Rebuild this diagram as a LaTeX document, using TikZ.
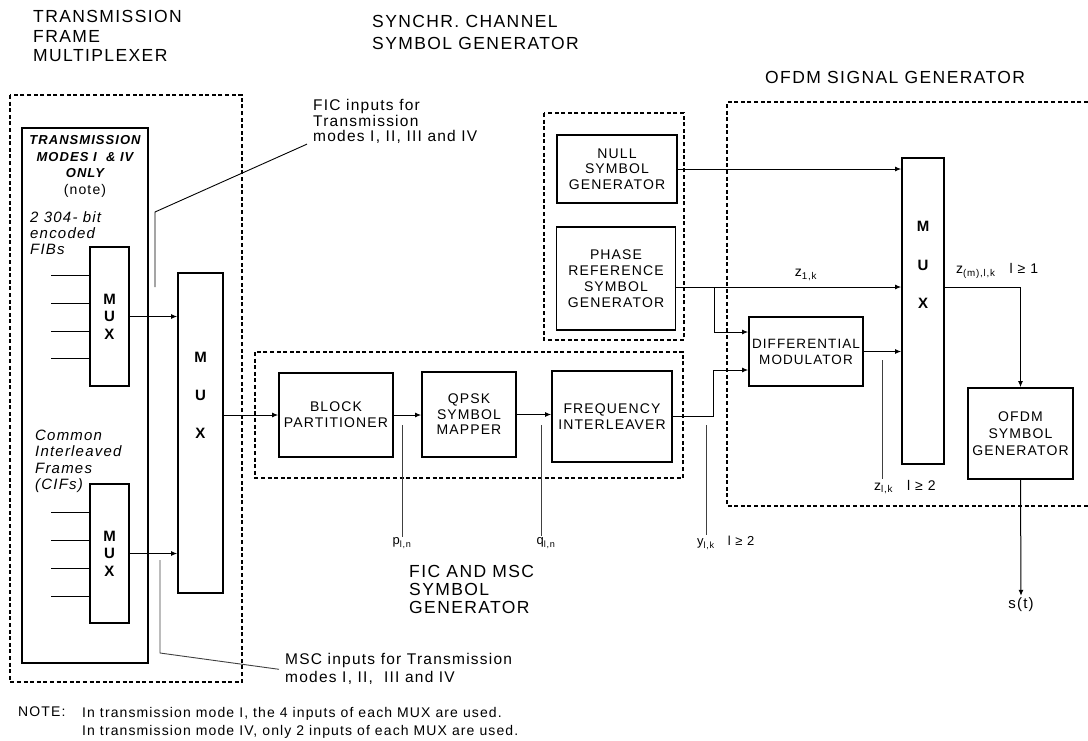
\documentclass[tikz,border=0pt]{standalone}
\usepackage{fontspec}
\setmainfont{Liberation Sans}
\newfontfamily\spaced{Liberation Sans}[LetterSpace=8]
\usetikzlibrary{arrows.meta}

\begin{document}
\begin{tikzpicture}[x=1pt, y=-1pt,
    groupbox/.style={draw, line width=1.4pt, dash pattern=on 4pt off 2.6pt},
    block/.style={draw, line width=1.7pt, inner sep=0pt, align=center, font=\spaced\fontsize{14}{16}\selectfont},
    muxbox/.style={draw, line width=1.7pt, inner sep=0pt, align=center, font=\bfseries\fontsize{15}{17.5}\selectfont},
    muxletters/.style={align=center, inner sep=0pt, font=\bfseries\fontsize{15}{38}\selectfont},
    headtext/.style={anchor=north west, inner sep=0pt, align=left, font=\spaced\fontsize{17.5}{19.5}\selectfont},
    sidetext/.style={anchor=north west, inner sep=0pt, align=left, font=\spaced\itshape\fontsize{15}{16.5}\selectfont},
    leadtext/.style={anchor=north west, inner sep=0pt, align=left, font=\spaced\fontsize{15.5}{15.5}\selectfont},
    sublabel/.style={inner sep=1pt, font=\spaced\fontsize{13}{15}\selectfont},
    wire/.style={line width=1pt},
    sig/.style={wire, -{Latex[length=6pt, width=5pt]}},
    lead/.style={line width=0.9pt, black!75},
]
\useasboundingbox (0,0) rectangle (1088,740);

% Headings
\node[headtext] (tfmhead) at (33,10.5) {TRANSMISSION\\FRAME\\MULTIPLEXER};
\node[headtext, font=\spaced\fontsize{17.5}{22}\selectfont] (synchead) at (372,15.5) {SYNCHR. CHANNEL\\SYMBOL GENERATOR};
\node[headtext] (ofdmhead) at (765,71.5) {OFDM SIGNAL GENERATOR};
\node[headtext, font=\spaced\fontsize{17.5}{18}\selectfont] (fmhead) at (409,565.5) {FIC AND MSC\\SYMBOL\\GENERATOR};

% Transmission frame multiplexer
\draw[groupbox] (10,95) rectangle (242,682);
\draw[line width=1.7pt] (22,128) rectangle (148,663);
\node[anchor=north, inner sep=0pt, align=center, font=\spaced\bfseries\itshape\fontsize{13}{16.5}\selectfont] (modestext) at (85,135.3)
    {TRANSMISSION\\MODES I \ \& IV\\ONLY\\{\normalfont\spaced\fontsize{14}{16.5}\selectfont (note)}};
\node[sidetext, font=\spaced\itshape\fontsize{15}{16}\selectfont] (fibtext) at (30,211.6) {2 304- bit\\encoded\\FIBs};
\node[sidetext] (ciftext) at (35,429.6) {Common\\Interleaved\\Frames\\(CIFs)};

\node[muxbox, minimum width=39pt, minimum height=139pt] (mux1) at (109.5,316.5) {M\\U\\X};
\node[muxbox, minimum width=39pt, minimum height=139pt] (mux2) at (109.5,553.5) {M\\U\\X};
\node[muxbox, minimum width=45pt, minimum height=320pt] (mainmux) at (200.5,433) {};
\node[muxletters] (mainmuxtxt) at (200.5,395) {M\\U\\X};

\foreach \y in {275,303,331,358} \draw[wire] (51,\y) -- (mux1.west |- 0,\y);
\foreach \y in {512,540,568,596} \draw[wire] (51,\y) -- (mux2.west |- 0,\y);
\draw[sig] (mux1.east) -- (mainmux.west |- mux1.east);
\draw[sig] (mux2.east) -- (mainmux.west |- mux2.east);

% FIC and MSC symbol generator
\draw[groupbox] (255,352) rectangle (683,478);
\node[block, minimum width=114pt, minimum height=84pt] (bp) at (336,415) {BLOCK\\PARTITIONER};
\node[block, minimum width=94pt, minimum height=85pt, font=\spaced\fontsize{14}{15.5}\selectfont] (qpsk) at (469,414.5) {QPSK\\SYMBOL\\MAPPER};
\node[block, minimum width=120pt, minimum height=91pt] (fi) at (612,416.5) {FREQUENCY\\INTERLEAVER};

\draw[sig] (mainmux.east |- bp.west) -- (bp.west);
\draw[sig] (bp.east) -- (qpsk.west |- bp.east);
\draw[sig] (qpsk.east) -- (fi.west |- qpsk.east);

% Synchronisation channel symbol generator
\draw[groupbox] (544,113) rectangle (684,340);
\node[block, minimum width=120pt, minimum height=68pt, font=\spaced\fontsize{14}{15.5}\selectfont] (null) at (617,169) {NULL\\SYMBOL\\GENERATOR};
\node[block, minimum width=119pt, minimum height=103pt] (phase) at (616,278.5) {PHASE\\REFERENCE\\SYMBOL\\GENERATOR};

% OFDM signal generator
\draw[groupbox] (1088,102) -- (727,102) -- (727,506) -- (1088,506);
\node[block, minimum width=114pt, minimum height=69pt, font=\spaced\fontsize{13.5}{16}\selectfont] (dm) at (806,351.5) {DIFFERENTIAL\\MODULATOR};
\node[muxbox, minimum width=42pt, minimum height=306pt] (oxmux) at (923,311) {};
\node[muxletters, font=\bfseries\fontsize{15}{38.5}\selectfont] (oxmuxtxt) at (923,265) {M\\U\\X};
\node[block, minimum width=105pt, minimum height=91pt, font=\spaced\fontsize{14}{17}\selectfont] (osg) at (1020.5,433.5) {OFDM\\SYMBOL\\GENERATOR};
\node[inner sep=2pt, font=\spaced\fontsize{15}{17}\selectfont] (st) at (1021,605) {s(t)};

\coordinate (zsplit) at (714,287);
\draw[sig] (null.east) -- (oxmux.west |- null.east);
\draw[wire] ([yshift=-8.5pt]phase.east) -- (zsplit);
\draw[sig] (zsplit) -- (oxmux.west |- zsplit);
\draw[sig] (zsplit) |- ([yshift=19.5pt]dm.west);
\draw[sig] (fi.east) -- ++(41,0) |- ([yshift=-18.5pt]dm.west);
\draw[sig] (dm.east) -- (oxmux.west |- dm.east);
\draw[sig] (oxmux.east |- zsplit) -| (osg.north);
\draw[sig] (osg.south) -- (st.north);

\node[sublabel, font=\spaced\fontsize{14}{16}\selectfont] (z1lbl) at (806,275) {z\textsubscript{1,k}};
\node[sublabel, anchor=west, font=\spaced\fontsize{14}{16}\selectfont] (zmlbl) at (955,271) {z\textsubscript{(m),l,k}\quad l ≥ 1};

% Signal names below the chain
\coordinate (ptop) at (402,425);
\coordinate (qtop) at (541,425);
\coordinate (ytop) at (706,425);
\coordinate (ztop) at (882,360);
\node[sublabel] (plbl) at (402,543) {p\textsubscript{l,n}};
\node[sublabel] (qlbl) at (546,543) {q\textsubscript{l,n}};
\node[sublabel, anchor=west] (ylbl) at (696,543) {y\textsubscript{l,k}\quad l ≥ 2};
\node[sublabel, anchor=west, font=\spaced\fontsize{14}{16}\selectfont] (zlbl) at (873,487) {z\textsubscript{l,k}\quad l ≥ 2};
\draw[lead] (ptop) -- (ptop |- plbl.north);
\draw[lead] (qtop) -- (qtop |- qlbl.north);
\draw[lead] (ytop) -- (ytop |- ylbl.north);
\draw[lead] (ztop) -- (ztop |- zlbl.north);

% Input callouts
\node[leadtext] (ficlbl) at (313,99.5) {FIC inputs for\\Transmission\\modes I, II, III and IV};
\node[leadtext, font=\spaced\fontsize{15.5}{18}\selectfont] (msclbl) at (285,653.5) {MSC inputs for Transmission\\modes I, II, \ III and IV};
\coordinate (ficfoot) at (155,287);
\coordinate (ficbend) at (155,212);
\coordinate (mscfoot) at (160,560);
\coordinate (mscbend) at (160,653);
\draw[lead, black] (ficfoot) -- (ficbend) -- ([xshift=-6pt]ficlbl.south west);
\draw[lead] (mscfoot) -- (mscbend) -- ([xshift=-6pt]msclbl.west);

% Note
\node[anchor=north west, inner sep=0pt, font=\spaced\fontsize{14}{18}\selectfont] (notehead) at (18,707) {NOTE:};
\node[anchor=north west, inner sep=0pt, align=left, font=\spaced\fontsize{14}{18}\selectfont] (notebody) at (82,707)
    {In transmission mode I, the 4 inputs of each MUX are used.\\In transmission mode IV, only 2 inputs of each MUX are used.};
\end{tikzpicture}
\end{document}
